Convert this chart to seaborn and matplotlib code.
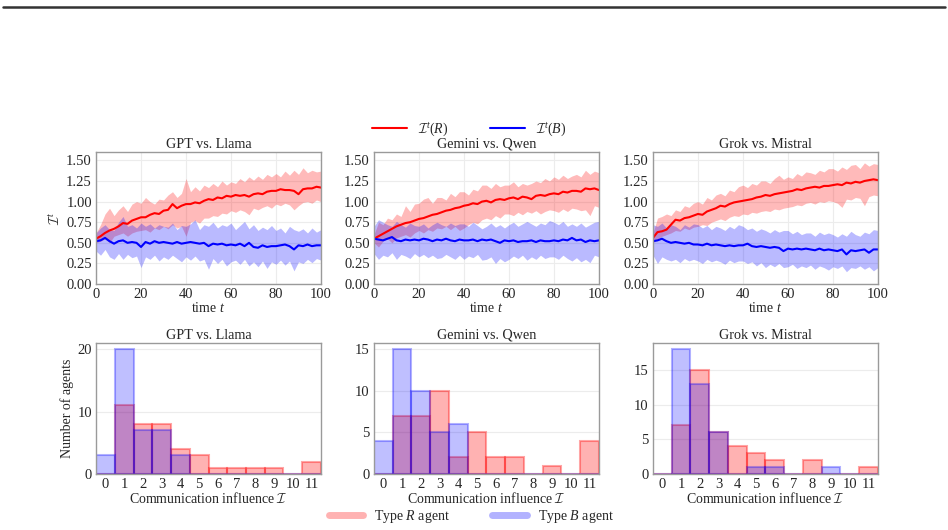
import numpy as np
import pandas as pd
import matplotlib
matplotlib.use("Agg")
import matplotlib.pyplot as plt
from matplotlib.lines import Line2D
import seaborn as sns

# ---------------- data ----------------
t = list(range(0, 101, 2))  # 51 time steps shown

panels = ["GPT vs. Llama", "Gemini vs. Qwen", "Grok vs. Mistral"]

# GPT vs. Llama
gpt_r_mean = [0.55, 0.58, 0.62, 0.65, 0.67, 0.70, 0.74, 0.73, 0.77, 0.79,
              0.81, 0.81, 0.84, 0.86, 0.85, 0.89, 0.90, 0.97, 0.92, 0.95,
              0.97, 0.97, 0.99, 0.98, 1.01, 1.03, 1.02, 1.05, 1.04, 1.07,
              1.06, 1.08, 1.07, 1.08, 1.06, 1.09, 1.10, 1.09, 1.12, 1.13,
              1.13, 1.15, 1.14, 1.14, 1.13, 1.09, 1.15, 1.16, 1.16, 1.18,
              1.17]
gpt_r_low = [0.50, 0.52, 0.55, 0.50, 0.58, 0.60, 0.62, 0.58, 0.62, 0.64,
             0.65, 0.66, 0.63, 0.68, 0.66, 0.70, 0.67, 0.72, 0.68, 0.70,
             0.58, 0.75, 0.77, 0.74, 0.80, 0.80, 0.83, 0.82, 0.86, 0.85,
             0.89, 0.87, 0.90, 0.88, 0.84, 0.92, 0.90, 0.93, 0.95, 0.92,
             0.97, 0.95, 0.98, 0.96, 0.90, 0.95, 0.99, 1.00, 0.98, 1.02,
             1.00]
gpt_r_up = [0.62, 0.72, 0.85, 0.92, 0.83, 0.90, 0.95, 0.88, 0.97, 1.00,
            0.98, 1.05, 1.00, 0.97, 1.03, 1.02, 1.08, 1.12, 1.05, 1.10,
            1.28, 1.12, 1.18, 1.13, 1.20, 1.17, 1.22, 1.18, 1.25, 1.20,
            1.24, 1.22, 1.28, 1.24, 1.30, 1.26, 1.31, 1.27, 1.33, 1.30,
            1.34, 1.30, 1.37, 1.32, 1.38, 1.33, 1.41, 1.35, 1.38, 1.36,
            1.37]
gpt_b_mean = [0.52, 0.53, 0.56, 0.52, 0.49, 0.52, 0.53, 0.50, 0.51, 0.50,
              0.45, 0.51, 0.49, 0.52, 0.50, 0.51, 0.50, 0.49, 0.51, 0.49,
              0.50, 0.51, 0.50, 0.49, 0.50, 0.46, 0.49, 0.48, 0.49, 0.47,
              0.48, 0.47, 0.49, 0.46, 0.50, 0.45, 0.44, 0.47, 0.45, 0.46,
              0.46, 0.47, 0.48, 0.46, 0.42, 0.47, 0.46, 0.48, 0.46, 0.47,
              0.47]
gpt_b_low = [0.40, 0.35, 0.42, 0.33, 0.30, 0.37, 0.30, 0.36, 0.32, 0.34,
             0.20, 0.33, 0.30, 0.35, 0.28, 0.33, 0.30, 0.35, 0.31, 0.27,
             0.33, 0.29, 0.34, 0.28, 0.30, 0.18, 0.31, 0.25, 0.30, 0.22,
             0.27, 0.29, 0.24, 0.30, 0.22, 0.27, 0.21, 0.28, 0.19, 0.27,
             0.24, 0.29, 0.23, 0.28, 0.16, 0.27, 0.25, 0.30, 0.26, 0.31,
             0.29]
gpt_b_up = [0.62, 0.68, 0.72, 0.66, 0.65, 0.75, 0.82, 0.70, 0.72, 0.68,
            0.74, 0.70, 0.73, 0.68, 0.72, 0.70, 0.69, 0.74, 0.66, 0.71,
            0.70, 0.73, 0.78, 0.66, 0.72, 0.70, 0.75, 0.68, 0.72, 0.70,
            0.74, 0.66, 0.71, 0.76, 0.67, 0.72, 0.65, 0.69, 0.66, 0.71,
            0.65, 0.68, 0.62, 0.70, 0.66, 0.64, 0.67, 0.62, 0.68, 0.63,
            0.66]

# Gemini vs. Qwen
gem_r_mean = [0.55, 0.58, 0.61, 0.64, 0.67, 0.70, 0.72, 0.74, 0.75, 0.77,
              0.79, 0.80, 0.82, 0.84, 0.85, 0.87, 0.89, 0.90, 0.92, 0.93,
              0.95, 0.96, 0.98, 0.97, 1.00, 1.01, 0.99, 1.02, 1.03, 1.02,
              1.04, 1.05, 1.03, 1.06, 1.05, 1.03, 1.07, 1.08, 1.07, 1.09,
              1.10, 1.09, 1.12, 1.11, 1.13, 1.13, 1.12, 1.16, 1.15, 1.16,
              1.14]
gem_r_low = [0.50, 0.45, 0.52, 0.55, 0.50, 0.56, 0.58, 0.60, 0.57, 0.62,
             0.65, 0.62, 0.66, 0.64, 0.68, 0.67, 0.70, 0.66, 0.70, 0.65,
             0.68, 0.72, 0.75, 0.73, 0.78, 0.80, 0.78, 0.83, 0.80, 0.85,
             0.85, 0.83, 0.87, 0.84, 0.88, 0.86, 0.89, 0.85, 0.88, 0.90,
             0.89, 0.87, 0.91, 0.88, 0.92, 0.91, 0.89, 0.90, 0.83, 0.95,
             0.93]
gem_r_up = [0.60, 0.75, 0.72, 0.80, 0.78, 0.85, 0.82, 0.95, 0.88, 0.97,
            0.98, 1.03, 1.05, 0.98, 1.05, 1.05, 1.02, 1.10, 1.06, 1.12,
            1.12, 1.08, 1.15, 1.13, 1.20, 1.20, 1.16, 1.22, 1.18, 1.20,
            1.20, 1.24, 1.18, 1.22, 1.20, 1.22, 1.25, 1.23, 1.28, 1.25,
            1.30, 1.27, 1.32, 1.28, 1.31, 1.33, 1.30, 1.38, 1.33, 1.37,
            1.35]
gem_b_mean = [0.55, 0.54, 0.53, 0.55, 0.57, 0.53, 0.52, 0.54, 0.53, 0.54,
              0.53, 0.55, 0.54, 0.52, 0.54, 0.53, 0.55, 0.53, 0.52, 0.54,
              0.53, 0.53, 0.54, 0.52, 0.54, 0.53, 0.54, 0.52, 0.50, 0.53,
              0.52, 0.53, 0.51, 0.52, 0.52, 0.53, 0.51, 0.53, 0.52, 0.52,
              0.53, 0.52, 0.54, 0.53, 0.56, 0.53, 0.54, 0.51, 0.53, 0.52,
              0.53]
gem_b_low = [0.37, 0.30, 0.35, 0.33, 0.38, 0.30, 0.36, 0.34, 0.31, 0.37,
             0.33, 0.36, 0.32, 0.35, 0.31, 0.32, 0.36, 0.33, 0.30, 0.35,
             0.30, 0.34, 0.32, 0.36, 0.29, 0.30, 0.33, 0.25, 0.31, 0.27,
             0.30, 0.34, 0.31, 0.35, 0.29, 0.33, 0.30, 0.35, 0.31, 0.33,
             0.33, 0.30, 0.35, 0.31, 0.28, 0.32, 0.27, 0.30, 0.26, 0.35,
             0.33]
gem_b_up = [0.70, 0.78, 0.75, 0.72, 0.70, 0.76, 0.72, 0.69, 0.74, 0.71,
            0.70, 0.73, 0.68, 0.72, 0.75, 0.72, 0.70, 0.74, 0.71, 0.73,
            0.73, 0.70, 0.75, 0.71, 0.67, 0.70, 0.74, 0.69, 0.72, 0.68,
            0.72, 0.75, 0.70, 0.73, 0.76, 0.73, 0.70, 0.74, 0.72, 0.77,
            0.75, 0.72, 0.76, 0.70, 0.73, 0.70, 0.74, 0.69, 0.72, 0.75,
            0.76]

# Grok vs. Mistral
grk_r_mean = [0.56, 0.63, 0.64, 0.66, 0.72, 0.78, 0.77, 0.80, 0.81, 0.83,
              0.85, 0.84, 0.88, 0.90, 0.92, 0.95, 0.94, 0.97, 0.99, 1.00,
              1.01, 1.02, 1.03, 1.05, 1.06, 1.08, 1.07, 1.09, 1.10, 1.11,
              1.12, 1.13, 1.15, 1.14, 1.16, 1.17, 1.18, 1.17, 1.19, 1.19,
              1.20, 1.21, 1.20, 1.23, 1.22, 1.24, 1.23, 1.25, 1.26, 1.27,
              1.26]
grk_r_low = [0.50, 0.55, 0.58, 0.60, 0.62, 0.65, 0.64, 0.68, 0.66, 0.69,
             0.70, 0.72, 0.71, 0.75, 0.77, 0.79, 0.77, 0.81, 0.83, 0.82,
             0.85, 0.84, 0.87, 0.86, 0.88, 0.89, 0.88, 0.91, 0.90, 0.92,
             0.93, 0.94, 0.96, 0.95, 0.98, 0.99, 0.97, 1.00, 0.99, 1.01,
             1.00, 0.98, 0.93, 1.03, 1.02, 1.05, 1.04, 0.95, 1.06, 1.08,
             1.07]
grk_r_up = [0.62, 0.80, 0.82, 0.85, 0.83, 0.90, 0.88, 0.95, 0.93, 0.98,
            1.00, 0.97, 1.05, 1.02, 1.08, 1.10, 1.07, 1.14, 1.12, 1.18,
            1.20, 1.17, 1.22, 1.20, 1.25, 1.25, 1.22, 1.28, 1.32, 1.27,
            1.30, 1.28, 1.34, 1.31, 1.36, 1.35, 1.33, 1.38, 1.36, 1.40,
            1.40, 1.37, 1.42, 1.39, 1.44, 1.45, 1.40, 1.47, 1.43, 1.46,
            1.45]
grk_b_mean = [0.52, 0.53, 0.55, 0.52, 0.50, 0.51, 0.50, 0.49, 0.50, 0.48,
              0.48, 0.47, 0.49, 0.47, 0.48, 0.47, 0.46, 0.47, 0.46, 0.47,
              0.47, 0.49, 0.46, 0.45, 0.46, 0.45, 0.44, 0.45, 0.44, 0.40,
              0.43, 0.42, 0.43, 0.42, 0.43, 0.42, 0.41, 0.43, 0.41, 0.42,
              0.41, 0.40, 0.42, 0.36, 0.41, 0.40, 0.41, 0.42, 0.38, 0.42,
              0.42]
grk_b_low = [0.35, 0.25, 0.33, 0.30, 0.28, 0.30, 0.26, 0.31, 0.28, 0.30,
             0.28, 0.25, 0.30, 0.27, 0.29, 0.27, 0.24, 0.29, 0.26, 0.28,
             0.28, 0.25, 0.27, 0.22, 0.26, 0.20, 0.24, 0.21, 0.25, 0.20,
             0.21, 0.24, 0.19, 0.22, 0.20, 0.23, 0.18, 0.22, 0.20, 0.17,
             0.21, 0.19, 0.22, 0.15, 0.20, 0.19, 0.22, 0.18, 0.21, 0.16,
             0.20]
grk_b_up = [0.72, 0.70, 0.74, 0.68, 0.72, 0.70, 0.66, 0.72, 0.69, 0.73,
            0.72, 0.68, 0.71, 0.66, 0.70, 0.68, 0.65, 0.70, 0.67, 0.72,
            0.70, 0.66, 0.68, 0.64, 0.67, 0.65, 0.62, 0.66, 0.63, 0.65,
            0.65, 0.61, 0.64, 0.60, 0.62, 0.62, 0.58, 0.63, 0.60, 0.62,
            0.60, 0.57, 0.61, 0.58, 0.64, 0.60, 0.58, 0.63, 0.61, 0.66,
            0.65]

series = {
    "GPT vs. Llama": (gpt_r_mean, gpt_r_low, gpt_r_up, gpt_b_mean, gpt_b_low, gpt_b_up),
    "Gemini vs. Qwen": (gem_r_mean, gem_r_low, gem_r_up, gem_b_mean, gem_b_low, gem_b_up),
    "Grok vs. Mistral": (grk_r_mean, grk_r_low, grk_r_up, grk_b_mean, grk_b_low, grk_b_up),
}

# histogram counts per communication influence bin 0..11
bins = list(range(12))
gpt_hist_r = [0, 11, 8, 8, 4, 3, 1, 1, 1, 1, 0, 2]
gpt_hist_b = [3, 20, 7, 7, 3, 0, 0, 0, 0, 0, 0, 0]
gem_hist_r = [0, 7, 7, 10, 2, 5, 2, 2, 0, 1, 0, 4]
gem_hist_b = [4, 15, 10, 5, 6, 0, 0, 0, 0, 0, 0, 0]
grk_hist_r = [0, 7, 15, 6, 4, 3, 2, 0, 2, 0, 0, 1]
grk_hist_b = [0, 18, 13, 6, 0, 1, 1, 0, 0, 1, 0, 0]
hists = {
    "GPT vs. Llama": (gpt_hist_r, gpt_hist_b),
    "Gemini vs. Qwen": (gem_hist_r, gem_hist_b),
    "Grok vs. Mistral": (grk_hist_r, grk_hist_b),
}

# ---------------- style ----------------
sns.set_theme(style="whitegrid")
plt.rcParams.update({
    "font.family": ["Liberation Serif", "DejaVu Serif"],
    "mathtext.fontset": "custom",
    "mathtext.rm": "Liberation Serif",
    "mathtext.it": "Liberation Serif:italic",
    "mathtext.bf": "Liberation Serif:bold",
    "mathtext.cal": "cmsy10",
    "axes.edgecolor": "#9a9a9a",
    "axes.linewidth": 1.0,
    "grid.color": "#ececec",
    "grid.linewidth": 0.8,
    "xtick.major.size": 0,
    "ytick.major.size": 0,
    "xtick.major.pad": 3,
    "ytick.major.pad": 3,
    "xtick.labelsize": 10.5,
    "ytick.labelsize": 10.5,
    "axes.labelsize": 10,
    "axes.titlesize": 10.2,
})

fig = plt.figure(figsize=(9.48, 5.30), dpi=100)
lefts = [0.1013, 0.3945, 0.6888]
w = 0.2373

top_axes = [fig.add_axes([l, 0.464, w, 0.249]) for l in lefts]
bot_axes = [fig.add_axes([l, 0.1057, w, 0.247]) for l in lefts]

for i, (ax, name) in enumerate(zip(top_axes, panels)):
    rm, rl, ru, bm, bl, bu = series[name]
    ax.fill_between(t, rl, ru, color="red", alpha=0.27, linewidth=0)
    ax.fill_between(t, bl, bu, color="blue", alpha=0.27, linewidth=0)
    sns.lineplot(x=t, y=rm, ax=ax, color="red", linewidth=1.5)
    sns.lineplot(x=t, y=bm, ax=ax, color="blue", linewidth=1.5)
    ax.set_xlim(0, 100)
    ax.set_ylim(0, 1.6)
    ax.set_xticks([0, 20, 40, 60, 80, 100])
    ax.set_yticks([0, 0.25, 0.5, 0.75, 1.0, 1.25, 1.5])
    ax.set_yticklabels(["0.00", "0.25", "0.50", "0.75", "1.00", "1.25", "1.50"])
    ax.set_title(name, pad=3)
    ax.set_xlabel("time $t$", labelpad=0)
    ax.set_ylabel(r"$\mathcal{I}^t$" if i == 0 else "", labelpad=2)

for i, (ax, name) in enumerate(zip(bot_axes, panels)):
    hr, hb = hists[name]
    df = pd.DataFrame({"bin": bins + bins, "count": hr + hb,
                       "type": ["R"] * len(bins) + ["B"] * len(bins)})
    sns.histplot(data=df[df["type"] == "R"], x="bin", weights="count", discrete=True,
                 color="red", alpha=0.3, edgecolor=(1, 0, 0, 0.35), linewidth=1.5, ax=ax)
    sns.histplot(data=df[df["type"] == "B"], x="bin", weights="count", discrete=True,
                 color="blue", alpha=0.25, edgecolor=(0, 0, 1, 0.3), linewidth=1.5, ax=ax)
    ax.set_xlim(-0.5, 11.5)
    ax.set_xticks(bins)
    ax.grid(axis="x", visible=False)
    ax.set_title(name, pad=3)
    ax.set_xlabel(r"Communication influence $\mathcal{I}$", labelpad=0)
    ax.set_ylabel("Number of agents" if i == 0 else "", labelpad=2)

# legends
top_handles = [Line2D([], [], color="red", lw=1.5), Line2D([], [], color="blue", lw=1.5)]
fig.legend(top_handles, [r"$\mathcal{I}^t(R)$", r"$\mathcal{I}^t(B)$"], loc="center",
           bbox_to_anchor=(0.495, 0.757), ncol=2, frameon=False, fontsize=10,
           columnspacing=3.0, handlelength=2.5)
bot_handles = [Line2D([], [], color="red", lw=5, alpha=0.3), Line2D([], [], color="blue", lw=5, alpha=0.3)]
fig.legend(bot_handles, ["Type $R$ agent", "Type $B$ agent"], loc="center",
           bbox_to_anchor=(0.497, 0.025), ncol=2, frameon=False, fontsize=10,
           columnspacing=3.0, handlelength=2.5)

# thin rule at top of the figure
fig.add_artist(Line2D([0.003, 0.997], [0.987, 0.987], color="#333333", lw=1.8,
                      transform=fig.transFigure))

fig.savefig("out.png", dpi=100)
